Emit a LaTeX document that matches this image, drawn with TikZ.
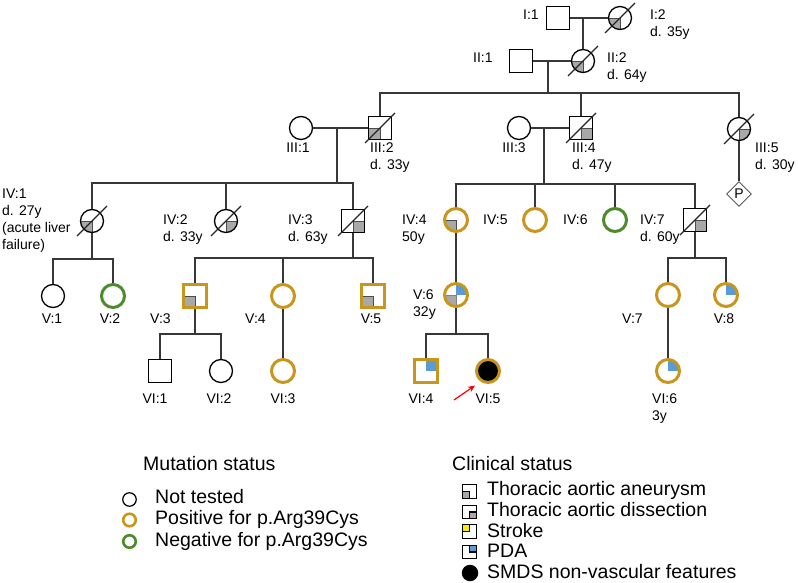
\documentclass[tikz,border=0pt]{standalone}
\usepackage{fontspec}
\setmainfont{Liberation Sans}
\usetikzlibrary{shapes.geometric,arrows.meta}
\definecolor{gold}{RGB}{200,150,28}
\definecolor{mgreen}{RGB}{78,138,46}
\definecolor{pblue}{RGB}{91,155,213}
\definecolor{qgray}{RGB}{168,168,168}
\definecolor{syel}{RGB}{255,236,0}
\definecolor{lcol}{RGB}{55,55,55}
\begin{document}
\begin{tikzpicture}[x=1pt,y=-1pt,
  person/.style={minimum size=23pt, inner sep=0pt, line width=1.3pt, draw=black, fill=white},
  male/.style={person, rectangle},
  female/.style={person, circle},
  mpos/.style={draw=gold, line width=3pt},
  mneg/.style={draw=mgreen, line width=3pt},
  conn/.style={draw=lcol, line width=1.2pt},
  dead/.style={draw=black!85, line width=1.1pt},
  lab/.style={font=\fontsize{14}{17}\selectfont, inner sep=0pt, align=left, anchor=north west},
  clab/.style={lab, anchor=north, align=center},
  leg/.style={font=\fontsize{19.5}{22}\selectfont, inner sep=0pt, anchor=base west},
  taa/.style={path picture={\filldraw[fill=qgray,draw=black!70,line width=.6pt] (path picture bounding box.center) rectangle (path picture bounding box.south west);}},
  tad/.style={path picture={\filldraw[fill=qgray,draw=black!70,line width=.6pt] (path picture bounding box.center) rectangle (path picture bounding box.south east);}},
  pda/.style={path picture={\fill[pblue] (path picture bounding box.center) rectangle (path picture bounding box.north east);}},
  taapda/.style={path picture={\filldraw[fill=qgray,draw=black!50,line width=.6pt] (path picture bounding box.center) rectangle (path picture bounding box.south west);
      \fill[pblue] (path picture bounding box.center) rectangle (path picture bounding box.north east);}},
  lsq/.style={rectangle, draw=black, line width=1.3pt, minimum size=13.5pt, inner sep=0pt, fill=white},
  lcirc/.style={circle, draw=black, line width=1.2pt, minimum size=13.5pt, inner sep=0pt}
]
\useasboundingbox (0,0) rectangle (798,583);

% ---------- individuals ----------
\node[male] (i1) at (558,18) {};
\node[female,taa] (i2) at (620,18) {};
\node[male] (ii1) at (521,61) {};
\node[female,taa] (ii2) at (583,61) {};
\node[female] (iii1) at (301,128) {};
\node[male,taa] (iii2) at (380,128) {};
\node[female] (iii3) at (519,128) {};
\node[male,tad] (iii4) at (581,128) {};
\node[female,tad] (iii5) at (739,129) {};
\node[diamond, draw=black!65, line width=.9pt, minimum size=25pt, inner sep=0pt, aspect=1, font=\fontsize{14}{14}\selectfont] (p) at (739,194) {P};
\node[female,taa] (iv1) at (92,221) {};
\node[female,tad] (iv2) at (226,221) {};
\node[male,tad] (iv3) at (353,221) {};
\node[female,mpos,taa] (iv4) at (456,220) {};
\node[female,mpos] (iv5) at (535,220) {};
\node[female,mneg] (iv6) at (615,220) {};
\node[male,tad] (iv7) at (695,220) {};
\node[female] (v1) at (53,296) {};
\node[female,mneg] (v2) at (113,296) {};
\node[male,mpos,taa] (v3) at (195,296) {};
\node[female,mpos] (v4) at (283,296) {};
\node[male,mpos,taa] (v5) at (373,296) {};
\node[female,mpos,taapda] (v6) at (456,295) {};
\node[female,mpos] (v7) at (668,295) {};
\node[female,mpos,pda] (v8) at (726,295) {};
\node[male] (vi1) at (160,371) {};
\node[female] (vi2) at (221,371) {};
\node[female,mpos] (vi3) at (283,371) {};
\node[male,mpos,pda] (vi4) at (426,371) {};
\node[female,mpos,fill=black] (vi5) at (488,371) {};
\node[female,mpos,pda] (vi6) at (668,371) {};

% ---------- deceased slashes ----------
\foreach \n in {i2,ii2,iii2,iii4,iii5,iv1,iv2,iv3,iv7}
  \draw[dead] (\n.center) ++(-15,15) -- ++(30,-30);

% ---------- connectors ----------
\draw[conn] (i1.east) -- (i2.west);
\coordinate (m1) at (ii2 |- i1);
\draw[conn] (m1) -- (ii2.north);

\draw[conn] (ii1.east) -- (ii2.west);
\coordinate (m2) at (548,61);
\coordinate (s3) at (548,93);
\draw[conn] (m2) -- (s3);
\draw[conn] (iii2.north) -- (iii2.north |- s3) -- (iii5.north |- s3) -- (iii5.north);
\draw[conn] (iii4.north) -- (iii4.north |- s3);
\draw[conn] (iii5.south) -- (p.north);

\draw[conn] (iii1.east) -- (iii2.west);
\coordinate (m3) at (337,128);
\coordinate (s4a) at (337,183);
\draw[conn] (m3) -- (s4a);
\draw[conn] (iv1.north) -- (iv1.north |- s4a) -- (iv3.north |- s4a) -- (iv3.north);
\draw[conn] (iv2.north) -- (iv2.north |- s4a);

\draw[conn] (iii3.east) -- (iii4.west);
\coordinate (m4) at (544,128);
\coordinate (s4b) at (544,184);
\draw[conn] (m4) -- (s4b);
\draw[conn] (iv4.north) -- (iv4.north |- s4b) -- (iv7.north |- s4b) -- (iv7.north);
\draw[conn] (iv5.north) -- (iv5.north |- s4b);
\draw[conn] (iv6.north) -- (iv6.north |- s4b);

\coordinate (s5a) at (92,259);
\draw[conn] (iv1.south) -- (s5a);
\draw[conn] (v1.north) -- (v1.north |- s5a) -- (v2.north |- s5a) -- (v2.north);
\coordinate (s5b) at (353,258);
\draw[conn] (iv3.south) -- (s5b);
\draw[conn] (v3.north) -- (v3.north |- s5b) -- (v5.north |- s5b) -- (v5.north);
\draw[conn] (v4.north) -- (v4.north |- s5b);
\draw[conn] (iv4.south) -- (v6.north);
\coordinate (s5c) at (695,258);
\draw[conn] (iv7.south) -- (s5c);
\draw[conn] (v7.north) -- (v7.north |- s5c) -- (v8.north |- s5c) -- (v8.north);

\coordinate (s6a) at (195,334);
\draw[conn] (v3.south) -- (s6a);
\draw[conn] (vi1.north) -- (vi1.north |- s6a) -- (vi2.north |- s6a) -- (vi2.north);
\draw[conn] (v4.south) -- (vi3.north);
\coordinate (s6b) at (456,334);
\draw[conn] (v6.south) -- (s6b);
\draw[conn] (vi4.north) -- (vi4.north |- s6b) -- (vi5.north |- s6b) -- (vi5.north);
\draw[conn] (v7.south) -- (vi6.north);

% proband arrow
\coordinate (arT) at (454,400);
\coordinate (arH) at (475,385.5);
\draw[red, line width=1.2pt, -{Stealth[length=7pt,width=6pt]}] (arT) -- (arH);

% ---------- labels ----------
\node[lab] (li1) at (523,10) {I:1};
\node[lab] (li2) at (650,10) {I:2\\d. 35y};
\node[lab] (lii1) at (473,53) {II:1};
\node[lab] (lii2) at (607,53) {II:2\\d. 64y};
\node[clab] (liii1) at (298,143) {III:1};
\node[lab] (liii2) at (370,143) {III:2\\d. 33y};
\node[clab] (liii3) at (514,143) {III:3};
\node[lab] (liii4) at (572,143) {III:4\\d. 47y};
\node[lab] (liii5) at (755,143) {III:5\\d. 30y};
\node[lab] (liv1) at (2,188.5) {IV:1\\d. 27y\\(acute liver\\failure)};
\node[lab] (liv2) at (163,215) {IV:2\\d. 33y};
\node[lab] (liv3) at (288,215) {IV:3\\d. 63y};
\node[lab] (liv4) at (402,215) {IV:4\\50y};
\node[lab] (liv5) at (483,215) {IV:5};
\node[lab] (liv6) at (563,215) {IV:6};
\node[lab] (liv7) at (640,215) {IV:7\\d. 60y};
\node[clab] (lv1) at (52,314) {V:1};
\node[clab] (lv2) at (110,314) {V:2};
\node[lab] (lv3) at (150,314) {V:3};
\node[lab] (lv4) at (245,314) {V:4};
\node[clab] (lv5) at (371,314) {V:5};
\node[lab] (lv6) at (413,290) {V:6\\32y};
\node[lab] (lv7) at (622,314) {V:7};
\node[clab] (lv8) at (724,314) {V:8};
\node[clab] (lvi1) at (155,394) {VI:1};
\node[clab] (lvi2) at (219,394) {VI:2};
\node[clab] (lvi3) at (283,394) {VI:3};
\node[clab] (lvi4) at (421,394) {VI:4};
\node[clab] (lvi5) at (488,394) {VI:5};
\node[lab] (lvi6) at (652,394) {VI:6\\3y};

% ---------- legend: mutation status ----------
\node[leg] (mth) at (143,470) {Mutation status};
\node[lcirc] (mc1) at (129.5,499.5) {};
\node[lcirc, draw=gold, line width=2.6pt, minimum size=12.5pt] (mc2) at (129.5,520) {};
\node[lcirc, draw=mgreen, line width=2.6pt, minimum size=12.5pt] (mc3) at (129.5,541.5) {};
\node[leg] (mt1) at (155,503) {Not tested};
\node[leg] (mt2) at (155,524.5) {Positive for p.Arg39Cys};
\node[leg] (mt3) at (155,546.5) {Negative for p.Arg39Cys};

% ---------- legend: clinical status ----------
\node[leg] (csh) at (452,470) {Clinical status};
\node[lsq, path picture={\filldraw[fill=qgray,draw=black,line width=1.2pt] (path picture bounding box.center) rectangle (path picture bounding box.south west);}] (cq1) at (469.5,491.5) {};
\node[lsq, path picture={\filldraw[fill=qgray,draw=black,line width=1.2pt] (path picture bounding box.center) rectangle (path picture bounding box.south east);}] (cq2) at (469.5,512) {};
\node[lsq, path picture={\filldraw[fill=syel,draw=black,line width=1.2pt] (path picture bounding box.center) rectangle (path picture bounding box.north west);}] (cq3) at (469.5,531.5) {};
\node[lsq, path picture={\filldraw[fill=pblue,draw=black,line width=1.2pt] (path picture bounding box.center) rectangle (path picture bounding box.north east);}] (cq4) at (469.5,552) {};
\node[circle, fill=black, minimum size=16.5pt, inner sep=0pt] (cq5) at (470,573) {};
\node[leg] (ct1) at (487,495.5) {Thoracic aortic aneurysm};
\node[leg] (ct2) at (487,516) {Thoracic aortic dissection};
\node[leg] (ct3) at (487,537) {Stroke};
\node[leg] (ct4) at (487,557.5) {PDA};
\node[leg] (ct5) at (487,578.5) {SMDS non-vascular features};
\end{tikzpicture}
\end{document}
